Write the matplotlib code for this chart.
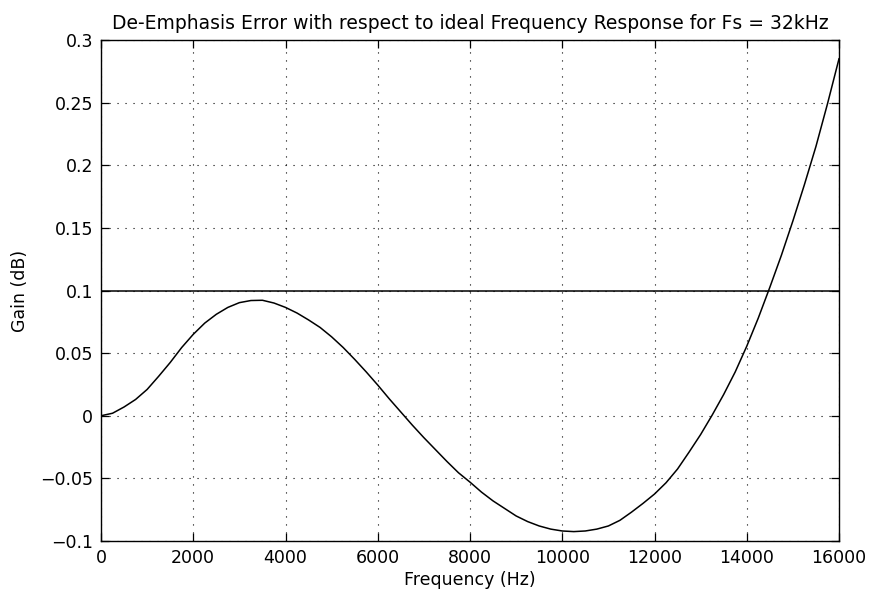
import numpy as np
import matplotlib.pyplot as plt

plt.rcParams['font.family'] = ['DejaVu Sans']

# values (every 250 Hz)
freq_hz = [0, 250, 500, 750, 1000, 1250, 1500, 1750, 2000, 2250, 2500, 2750,
           3000, 3250, 3500, 3750, 4000, 4250, 4500, 4750, 5000, 5250, 5500,
           5750, 6000, 6250, 6500, 6750, 7000, 7250, 7500, 7750, 8000, 8250,
           8500, 8750, 9000, 9250, 9500, 9750, 10000, 10250, 10500, 10750,
           11000, 11250, 11500, 11750, 12000, 12250, 12500, 12750, 13000,
           13250, 13500, 13750, 14000, 14250, 14500, 14750, 15000, 15250,
           15500, 15750, 16000]
gain_db = [0.0, 0.002, 0.007, 0.013, 0.021, 0.0315, 0.0425, 0.0545, 0.065,
           0.074, 0.081, 0.0865, 0.0903, 0.092, 0.0922, 0.090, 0.0865, 0.082,
           0.0765, 0.0705, 0.063, 0.0545, 0.045, 0.035, 0.0245, 0.0135, 0.003,
           -0.0075, -0.0175, -0.027, -0.0365, -0.0455, -0.053, -0.061, -0.068,
           -0.074, -0.080, -0.0845, -0.088, -0.0905, -0.092, -0.0925, -0.092,
           -0.0905, -0.088, -0.0835, -0.077, -0.070, -0.0625, -0.0535, -0.0425,
           -0.029, -0.015, 0.0005, 0.017, 0.035, 0.0555, 0.078, 0.1025, 0.128,
           0.1555, 0.1845, 0.215, 0.249, 0.285]
limit_db = 0.1

x_ticks = [0, 2000, 4000, 6000, 8000, 10000, 12000, 14000, 16000]
y_ticks = [-0.1, -0.05, 0, 0.05, 0.1, 0.15, 0.2, 0.25, 0.3]
y_labels = ['\u22120.1', '\u22120.05', '0', '0.05', '0.1', '0.15', '0.2', '0.25', '0.3']

fig = plt.figure(figsize=(8.69, 5.99), dpi=100)
ax = fig.add_axes([101 / 869, 58 / 599, 738 / 869, 501 / 599])

ax.plot(freq_hz, gain_db, color='k', lw=1.1)
ax.axhline(limit_db, color='k', lw=1.1)

ax.set_xlim(0, 16000)
ax.set_ylim(-0.1, 0.3)
ax.set_xticks(x_ticks)
ax.set_yticks(y_ticks)
ax.set_xticklabels([str(t) for t in x_ticks])
ax.set_yticklabels(y_labels)

ax.grid(True, color='k', lw=0.8, linestyle=(0, (1, 6.2)))
ax.tick_params(direction='in', length=5.5, width=0.9, top=True, right=True,
               labelsize=12.5, pad=5.5, colors='k')
for s in ax.spines.values():
    s.set_linewidth(1.0)

ax.set_title('De-Emphasis Error with respect to ideal Frequency Response for Fs = 32kHz',
             fontsize=13.5, pad=8)
ax.set_xlabel('Frequency (Hz)', fontsize=12.5, labelpad=3)
ax.set_ylabel('Gain (dB)', fontsize=12.5, labelpad=8)

fig.savefig('out.png', dpi=100)
